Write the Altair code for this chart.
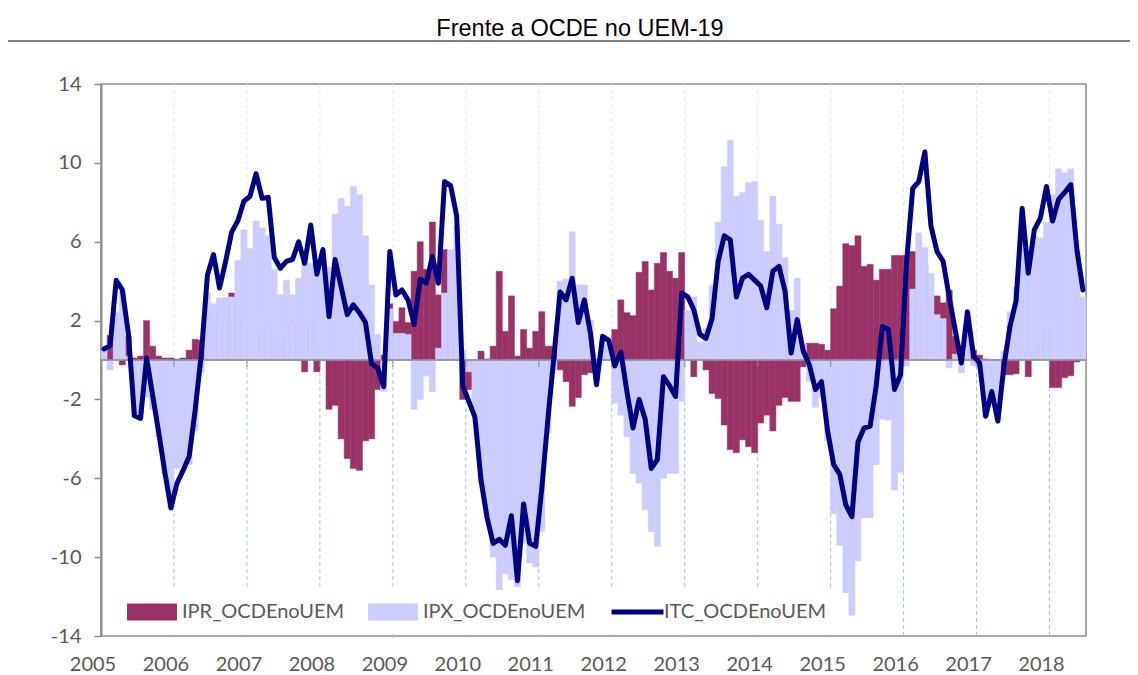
import altair as alt
import pandas as pd

TITLE = "Frente a OCDE no UEM-19"
NAMES = ["IPR_OCDEnoUEM", "IPX_OCDEnoUEM", "ITC_OCDEnoUEM"]
COLORS = ["#993366", "#CCCCFF", "#000080"]
FIRST_YEAR = 2005
YEARS = list(range(2005, 2019))
Y_TICKS = [-14, -10, -6, -2, 2, 6, 10, 14]

# monthly values, Jan 2005 .. Jun 2018
ipr = [
    0.1, 1.25, 1.6, -0.25, 1.2, 0.1, 0.2, 2.0, 0.7, 0.2, 0.1, 0.1,
    0.05, 0.1, 0.5, 1.05, 1.0, 0.9, 2.5, 0.5, 1.85, 3.4, 2.0, 1.45,
    2.65, 2.4, 1.5, 1.95, 0.6, 1.35, 0.95, 1.8, 1.85, -0.6, 1.9, -0.6,
    0.85, -2.5, -2.3, -4.0, -5.0, -5.5, -5.6, -4.1, -4.0, -1.5, 0.25, 2.85,
    1.95, 2.65, 1.9, 4.5, 6.0, 4.6, 7.0, 3.3, 5.6, 3.25, 0.5, -2.0,
    -1.5, -0.1, 0.45, 0.05, 0.7, 4.5, 1.45, 3.25, 0.2, 1.55, 0.6, 1.45,
    2.45, 0.7, 0.7, -0.5, -1.1, -2.35, -1.9, -0.75, -0.65, -0.3, 0.2, 0.2,
    1.55, 3.05, 2.4, 2.25, 4.45, 5.0, 3.55, 4.9, 5.45, 4.5, 4.15, 5.45,
    0.7, -0.85, 0.3, -0.5, -1.7, -1.95, -3.3, -4.55, -4.7, -4.05, -4.4, -4.7,
    -3.2, -2.8, -3.6, -2.3, -1.9, -2.1, -2.1, -0.35, 0.85, 0.85, 0.8, 0.5,
    2.6, 3.75, 5.9, 5.8, 6.3, 4.75, 4.85, 4.05, 4.6, 4.6, 5.3, 5.3,
    5.3, 5.5, 2.6, 4.8, 2.4, 3.25, 2.9, 3.55, 1.2, 0.3, 0.15, 0.5,
    0.25, 0.05, 0.0, 0.0, -0.75, -0.75, -0.7, 0.4, -0.85, 0.3, 1.0, 1.8,
    -1.4, -1.4, -0.9, -0.8, -0.1, 0.35,
]
ipx = [
    0.5, -0.5, 2.4, 3.5, 0.2, -2.9, -2.95, -1.9, -2.5, -3.9, -5.8, -7.6,
    -5.5, -5.4, -5.3, -3.6, -0.6, 3.4, 2.85, 3.15, 3.15, 3.2, 5.05, 6.6,
    5.65, 7.05, 6.7, 6.3, 4.6, 3.3, 4.05, 3.3, 4.15, 5.0, 4.9, 4.9,
    4.75, 4.7, 7.4, 8.2, 7.8, 8.8, 8.4, 6.3, 3.8, 1.3, -1.6, 2.6,
    1.35, 1.35, 1.3, -2.5, -2.0, -0.8, -1.6, 0.6, 3.4, 5.6, 6.8, 0.5,
    -0.6, -2.8, -6.25, -8.0, -10.0, -13.6, -10.85, -11.15, -11.5, -9.3, -10.3, -10.5,
    -8.7, -3.7, -0.5, 4.0, 4.1, 6.5, 3.8, 3.8, 2.0, -1.0, 1.0, 0.8,
    -2.2, -2.8, -3.9, -5.75, -6.25, -7.6, -8.7, -9.45, -6.0, -5.75, -5.75, -2.1,
    2.5, 3.2, 0.9, 1.6, 3.8, 7.0, 9.8, 11.15, 8.3, 8.5, 9.0, 9.05,
    7.1, 5.5, 8.3, 6.9, 5.2, 2.5, 4.15, 0.8, -1.1, -2.4, -1.9, -4.1,
    -7.8, -9.4, -11.8, -12.95, -10.2, -8.0, -8.0, -5.3, -3.0, -3.05, -6.6, -5.7,
    -0.3, 3.6, 6.45, 5.7, 4.4, 2.3, 2.1, -0.4, 0.3, -0.65, 2.3, -0.3,
    -0.4, -2.9, -1.6, -3.1, 0.45, 2.45, 3.7, 7.0, 5.25, 6.3, 6.2, 7.0,
    8.4, 9.7, 9.5, 9.7, 5.6, 3.2,
]
itc = [
    0.56, 0.73, 4.04, 3.57, 1.37, -2.83, -2.96, 0.10, -1.8, -3.7, -5.7, -7.5,
    -6.25, -5.6, -4.9, -2.5, 0.3, 4.3, 5.35, 3.65, 5.0, 6.5, 7.05, 8.05,
    8.3, 9.45, 8.2, 8.25, 5.2, 4.65, 5.0, 5.1, 6.0, 4.9, 6.85, 4.35,
    5.6, 2.2, 5.1, 3.7, 2.3, 2.8, 2.4, 1.9, -0.2, -0.4, -1.35, 5.5,
    3.3, 3.55, 3.05, 1.8, 4.1, 3.9, 5.25, 3.9, 9.05, 8.85, 7.3, -1.3,
    -2.1, -2.9, -6.1, -8.0, -9.3, -9.1, -9.4, -7.9, -11.2, -7.3, -9.3, -9.45,
    -6.5, -3.0, 0.2, 3.45, 3.05, 4.15, 1.9, 3.05, 1.35, -1.25, 1.2, 1.0,
    -0.3, 0.4, -1.6, -3.45, -2.0, -3.0, -5.5, -5.05, -0.85, -1.3, -1.85, 3.4,
    3.2, 2.55, 1.3, 1.1, 2.1, 5.0, 6.3, 6.1, 3.2, 4.15, 4.35, 4.05,
    3.75, 2.65, 4.5, 4.75, 3.5, 0.35, 2.05, 0.45, -0.25, -1.5, -1.1, -3.6,
    -5.3, -5.8, -7.35, -7.95, -4.15, -3.45, -3.35, -1.3, 1.7, 1.55, -1.5, -0.75,
    5.0, 8.7, 9.05, 10.55, 6.8, 5.5, 5.0, 3.2, 1.5, -0.15, 2.45, 0.2,
    -0.15, -2.85, -1.6, -3.1, -0.3, 1.7, 3.0, 7.7, 4.4, 6.6, 7.2, 8.8,
    7.05, 8.15, 8.5, 8.9, 5.6, 3.55,
]

n = len(itc)
months = list(range(n))
ipr_df = pd.DataFrame({"m": months, "m2": [m + 1 for m in months], "v": ipr, "serie": NAMES[0]})
ipx_df = pd.DataFrame({"m": months, "m2": [m + 1 for m in months], "v": ipx, "serie": NAMES[1]})
itc_df = pd.DataFrame({"mid": [m + 0.5 for m in months], "v": itc, "serie": NAMES[2]})
year_df = pd.DataFrame({"m": [(y - FIRST_YEAR) * 12 for y in YEARS[1:]]})
one_row = pd.DataFrame({"k": [0]})

LABEL_FONT = "Lato"
GREY = "#8c8c8c"
TXT = "#595959"

x_scale = alt.Scale(domain=[0, n], nice=False, zero=False)
y_scale = alt.Scale(domain=[-14, 14], nice=False, zero=False)

x_axis = alt.Axis(
    values=[(y - FIRST_YEAR) * 12 for y in YEARS],
    labelExpr=f"'' + ({FIRST_YEAR} + round(datum.value / 12))",
    ticks=False, domain=False, grid=False, title=None,
    labelFlush=False, labelOverlap=False, tickOffset=-8.5, labelPadding=18,
    labelFont=LABEL_FONT, labelFontSize=20, labelColor=TXT,
)
y_axis = alt.Axis(
    values=Y_TICKS, grid=False, title=None, labelExpr="'' + datum.value",
    tickSize=7, tickColor=GREY, tickWidth=1.5,
    domainColor=GREY, domainWidth=2,
    labelPadding=13, labelFont=LABEL_FONT, labelFontSize=20, labelColor=TXT,
)

X = alt.X("m:Q", scale=x_scale, axis=x_axis)
bar_path = "M-2.5,-0.85L2.5,-0.85L2.5,0.85L-2.5,0.85Z"
line_path = "M-2.6,0L2.6,0"

fill_legend = alt.Legend(
    title=None, orient="none", legendX=14, legendY=506, direction="horizontal",
    symbolType=bar_path, symbolSize=400, symbolOffset=15, symbolStrokeWidth=0,
    labelOffset=20, labelFont=LABEL_FONT, labelFontSize=20, labelColor=TXT,
    labelLimit=400, columnPadding=23, fillColor="white", padding=12, clipHeight=20,
)
stroke_legend = alt.Legend(
    title=None, orient="none", legendX=496, legendY=506, direction="horizontal",
    symbolType=line_path, symbolSize=400, symbolOffset=16, symbolStrokeWidth=5,
    labelOffset=14, labelFont=LABEL_FONT, labelFontSize=20, labelColor=TXT,
    labelLimit=400, fillColor="white", padding=12, clipHeight=20,
)
fill_scale = alt.Scale(domain=NAMES[:2], range=COLORS[:2])
stroke_scale = alt.Scale(domain=NAMES[2:], range=COLORS[2:])

grid_up = alt.Chart(year_df).mark_rule(color="#dde8f4", strokeDash=[4, 3], strokeWidth=1).encode(
    x=X, y=alt.Y(datum=0, scale=y_scale, axis=y_axis), y2=alt.datum(14))
grid_lo = alt.Chart(year_df).mark_rule(color="#a3c3e5", strokeDash=[4, 3], strokeWidth=1).encode(
    x=X, y=alt.Y(datum=-14, scale=y_scale, axis=y_axis), y2=alt.datum(0))


def bars(data, color):
    return alt.Chart(data).mark_rect(stroke=color, strokeWidth=0.5).encode(
        x=X, x2="m2:Q",
        y=alt.Y("v:Q", scale=y_scale, axis=y_axis), y2=alt.datum(0),
        fill=alt.Fill("serie:N", scale=fill_scale, legend=fill_legend),
    )


zero = alt.Chart(one_row).mark_rule(color=GREY, strokeWidth=1.5).encode(
    y=alt.Y(datum=0, scale=y_scale, axis=y_axis))
zticks = alt.Chart(year_df).mark_tick(orient="vertical", size=7, thickness=1.5, color=GREY, yOffset=3.5).encode(
    x=X, y=alt.Y(datum=0, scale=y_scale, axis=y_axis))
line = alt.Chart(itc_df).mark_line(strokeWidth=5, strokeJoin="round", strokeCap="round").encode(
    x=alt.X("mid:Q", scale=x_scale, axis=x_axis),
    y=alt.Y("v:Q", scale=y_scale, axis=y_axis),
    stroke=alt.Stroke("serie:N", scale=stroke_scale, legend=stroke_legend),
)
underline = alt.Chart(one_row).mark_rule(color="#808080", strokeWidth=2).encode(
    x=alt.value(-93), x2=alt.value(1037), y=alt.value(-43))

chart = alt.layer(
    grid_up, grid_lo, bars(ipr_df, COLORS[0]), bars(ipx_df, COLORS[1]), zero, zticks, line, underline
).properties(
    width=985, height=552,
    title=alt.TitleParams(TITLE, font="Liberation Sans", fontSize=23.5, fontWeight="normal",
                          color="#000000", anchor="middle", dx=-13.5, offset=-19, baseline="alphabetic"),
    padding={"left": 93, "top": 76, "right": 44, "bottom": 38},
    autosize=alt.AutoSizeParams(type="none"),
).configure(background="white").configure_view(stroke=GREY, strokeWidth=1.5)

chart.save("out.html", embed_options={"renderer": "svg", "actions": False})
